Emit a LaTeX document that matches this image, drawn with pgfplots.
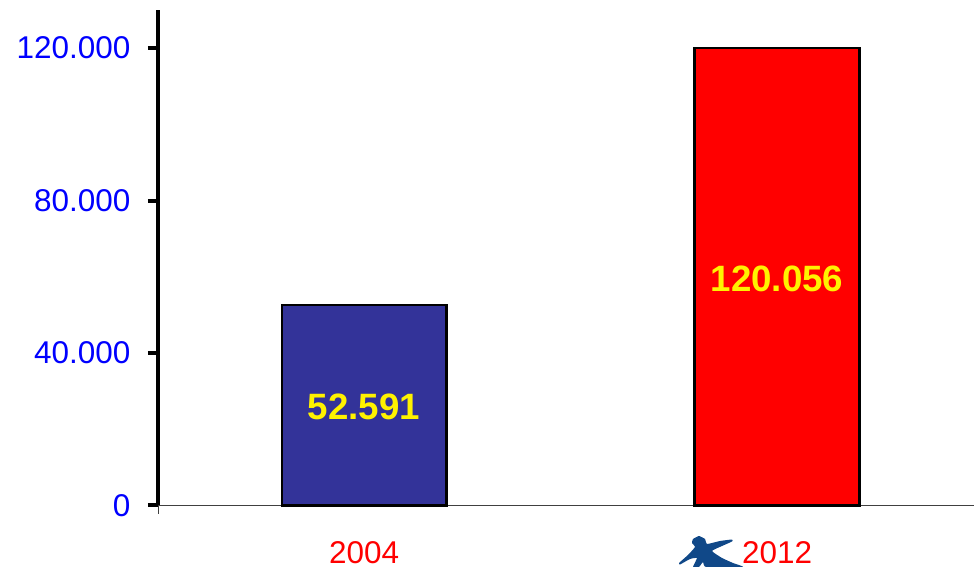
\documentclass[border=0pt]{standalone}
\usepackage{fontspec}
\setmainfont{Liberation Sans}
\usepackage{pgfplots}
\pgfplotsset{compat=1.18}
\definecolor{barblue}{RGB}{51,51,153}
\definecolor{logoblue}{RGB}{16,72,136}
\newlength{\px}
\setlength{\px}{0.75pt}
\begin{document}
\begin{tikzpicture}[x=\px,y=\px]
\useasboundingbox (-158,-61.5) rectangle (816,505.5);
\begin{axis}[
  at={(0,0)}, anchor=south west,
  scale only axis,
  width=612pt, height=371.6pt,
  xmin=-0.499, xmax=1.477,
  ymin=0, ymax=130000,
  axis x line=bottom, axis y line=left,
  x axis line style={-, line width=0.8pt, black!75},
  y axis line style={-, line width=3.4pt, black},
  tick align=outside,
  xtick={0,1}, xticklabels={2004,2012},
  ytick={0,40000,80000,120000},
  yticklabels={0,40.000,80.000,120.000},
  major tick length=7.5pt,
  x tick style={draw=none},
  y tick style={line width=3pt, black},
  yticklabel style={font=\fontsize{23.6}{24}\selectfont, text=blue, inner sep=0pt, xshift=-13pt},
  xticklabel style={font=\fontsize{23.6}{24}\selectfont, text=red, inner sep=0pt, yshift=-19.5pt},
  clip=false,
  ybar, bar shift=0pt, bar width=123.5pt,
]
\addplot[fill=barblue, draw=black, line width=1.8pt] coordinates {(0,52591)};
\addplot[fill=red, draw=black, line width=1.8pt] coordinates {(1,120056)};
\addplot[draw=none, fill=none, nodes near coords, point meta=explicit symbolic,
  every node near coord/.style={anchor=center, text=yellow, font=\fontsize{27.5}{28}\selectfont\bfseries}]
  coordinates {(0,25800)[52.591] (1,59500)[120.056]};
\end{axis}
\draw[black!75, line width=0.6pt] (0,0) -- (0,-9);
% logo beside the 2012 label, in reference pixels
\begin{scope}[shift={(-158,505.5)}, yscale=-1]
\fill[logoblue] plot[smooth cycle, tension=0.25] coordinates {(693,539) (699,536) (705,539) (707,544)
  (720,541) (732,539.5) (732,541.5) (722,546) (712,551) (722,558) (733,563) (743,567)
  (706,567) (703,562) (699,567) (693,567) (697,558) (690,559) (680,564.5) (679,563) (688,555) (695,547) (692,543)};
\end{scope}
\end{tikzpicture}
\end{document}
